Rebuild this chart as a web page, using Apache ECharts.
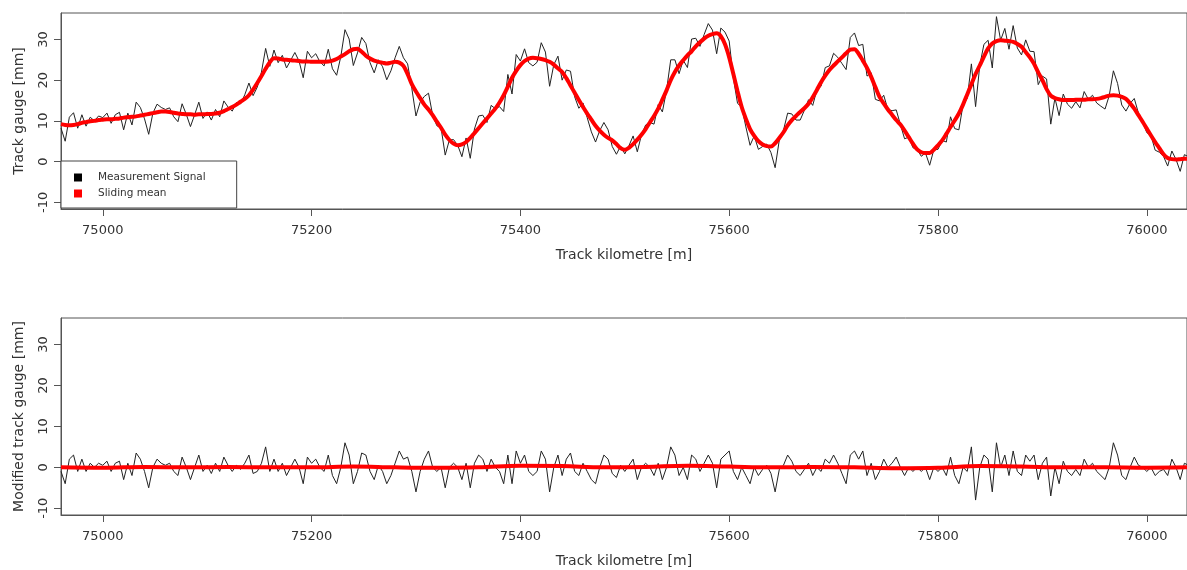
<!DOCTYPE html>
<html>
<head>
<meta charset="utf-8">
<script src="https://cdn.jsdelivr.net/npm/echarts@6/dist/echarts.min.js"></script>
<style>
  html, body { margin: 0; padding: 0; background: #fff; }
  #chart { width: 1187px; height: 570px; }
</style>
</head>
<body>
<div id="chart"></div>
<script>
// Sampling of the track: one value every 4 m starting at km 74960
const startKm = 74960;
const stepKm = 4;

// Sliding mean of the track gauge [mm], one value per sample (rows of 40 m)
const slidingMean = [
  9.2, 9.0, 8.9, 9.0, 9.2, 9.5, 9.7, 9.9, 10.0, 10.2,
  10.3, 10.4, 10.4, 10.5, 10.6, 10.8, 10.9, 11.0, 11.1, 11.3,
  11.5, 11.7, 11.9, 12.1, 12.3, 12.3, 12.2, 12.0, 11.8, 11.7,
  11.6, 11.6, 11.5, 11.6, 11.6, 11.7, 11.7, 11.8, 12.0, 12.4,
  12.9, 13.4, 14.0, 14.7, 15.4, 16.3, 17.7, 19.3, 21.0, 22.8,
  24.4, 25.4, 25.3, 25.1, 25.0, 24.9, 24.8, 24.7, 24.6, 24.6,
  24.5, 24.5, 24.5, 24.5, 24.6, 24.8, 25.2, 25.8, 26.4, 27.1,
  27.6, 27.7, 27.0, 26.0, 25.3, 24.8, 24.5, 24.3, 24.1, 24.3,
  24.5, 24.3, 23.5, 21.5, 19.0, 17.2, 15.6, 14.0, 12.8, 11.4,
  9.8, 8.3, 6.6, 5.3, 4.4, 4.0, 4.2, 4.8, 5.8, 7.0,
  8.2, 9.4, 10.6, 11.8, 13.0, 14.5, 16.3, 18.4, 20.6, 22.3,
  23.7, 24.7, 25.3, 25.5, 25.4, 25.2, 24.9, 24.5, 23.8, 22.9,
  22.0, 20.5, 18.7, 16.9, 15.1, 13.4, 11.8, 10.3, 8.8, 7.6,
  6.6, 5.8, 5.2, 4.3, 3.3, 2.9, 3.4, 4.3, 5.4, 6.6,
  8.0, 9.6, 11.2, 13.0, 15.2, 17.5, 20.0, 22.0, 23.6, 24.9,
  26.1, 27.1, 28.3, 29.3, 30.2, 30.9, 31.3, 31.5, 30.8, 28.8,
  25.6, 21.5, 17.3, 13.4, 10.5, 8.0, 6.3, 5.0, 4.2, 3.8,
  3.7, 4.5, 5.8, 7.2, 8.9, 10.2, 11.2, 12.2, 13.1, 14.2,
  15.8, 17.6, 19.5, 21.1, 22.5, 23.6, 24.6, 25.6, 26.6, 27.5,
  27.6, 26.5, 24.8, 23.0, 20.8, 18.3, 15.9, 14.3, 12.8, 11.5,
  10.2, 9.1, 7.6, 6.0, 4.4, 3.0, 2.3, 2.1, 2.1, 2.9,
  4.0, 5.2, 6.8, 8.5, 10.1, 11.8, 14.0, 16.5, 19.0, 21.5,
  23.6, 25.8, 27.8, 29.0, 29.6, 29.8, 29.7, 29.6, 29.4, 28.9,
  28.2, 26.9, 25.6, 24.0, 21.9, 20.0, 17.8, 16.2, 15.6, 15.3,
  15.1, 15.1, 15.1, 15.2, 15.2, 15.2, 15.3, 15.3, 15.4, 15.6,
  15.9, 16.2, 16.3, 16.2, 15.9, 15.4, 14.3, 13.0, 11.4, 9.8,
  8.1, 6.4, 4.8, 3.3, 1.8, 0.9, 0.6, 0.5, 0.6, 0.7,
  0.7
];

// Modified track gauge [mm]: measurement minus its sliding mean, same sampling
const modifiedGauge = [
  -1, -4, 2, 3, -1, 2, -1, 1, 0, 1,
  0.5, 1.5, -1, 1, 1.5, -3, 1, -2, 3.5, 2,
  -1, -5, 0, 2, 1, 0.5, 1, -1, -2, 2.5,
  0, -3, 0, 3, -1, 0.5, -1.5, 1, -1, 2.5,
  0.5, -1, 0.5, -0.5, 1, 3, -1.5, -1, 1, 5,
  -1, 2, -1, 1, -2, 0, 2, 0, -4, 2.5,
  1, 2, 0, -1, 3, -2, -4, 0, 6, 3,
  -4, -1, 3.5, 3, -1, -3, 0.5, -1, -4, -2,
  1, 4, 2, 2.5, -1, -6, -1, 2, 4, 0,
  -1, 0, -5, 0, 1, 0, -3, 1, -5, 1,
  3, 2, -1, 2, 0, -1, -4, 3, -4, 4,
  1, 3, -1, -2, -1, 4, 2, -6, 0, 3,
  -2, 2, 3.5, -1, -2, 1, -1, -3, -4, 0,
  3, 2, -1.5, -2.5, 0.5, -1, 0.5, 2, -3, 0,
  1, 0, -2, 1, -3, 0, 5, 3, -2, 0,
  -3, 3, 2, -1, 1, 3, 1, -5, 2, 3,
  4, -1, -3, 0, -2, -4, 0, -2, -0.5, 0.5,
  -1.5, -6, -0.5, 0.5, 3, 1.5, -1, -2, -0.5, 1,
  -2, 0, -1, 2, 1, 3, 1, -1.5, -4, 3,
  4, 2, 4, -2, 1, -3, -1, 2, 0, 1,
  2.5, 0, -2, 0, -1, 0, -1, 0, -3, 0,
  -1, 0, -2, 2.5, -2, -4, 0, -1, 5, -8,
  0, 3, 2, -6, 6, 0, 3, -2, 4, -1,
  -2, 3, 1.5, 3, -3, 1, 2.5, -7, 0, -4,
  1.5, -1, -2, -0.5, -2, 2, 0, 1, -1, -2,
  -3, 0, 6, 3, -2, -3, 0, 2.5, 0.5, 0,
  -1, 0, -2, -1, -0.5, -2, 2, 0, -3, 1,
  0.5
];

// Sliding mean of the modified gauge, one value every 40 m from km 74960
const modifiedMeanStep = 40;
const modifiedMean = [
  0.0, -0.1, 0.1, 0.0, 0.1, 0.0, 0.0, 0.2, 0.0, -0.1,
  0.0, 0.4, 0.3, 0.0, 0.1, 0.4, 0.2, 0.0, 0.1, 0.0,
  -0.2, -0.1, 0.3, 0.2, 0.0, 0.0, -0.1, 0.0
];

const xTicks = [75000, 75200, 75400, 75600, 75800, 76000];
const yTicks = [-10, 0, 10, 20, 30];

const kmAt = i => startKm + i * stepKm;
const signalData = slidingMean.map((m, i) => [kmAt(i), +(m + modifiedGauge[i]).toFixed(2)]);
const meanData = slidingMean.map((m, i) => [kmAt(i), m]);
const modData = modifiedGauge.map((v, i) => [kmAt(i), v]);
const modMeanData = modifiedMean.map((v, i) => [startKm + i * modifiedMeanStep, v]);

const FONT = 'DejaVu Sans';
const TXT = '#333';
const FRAME = '#555';

function xAxis(gridIndex) {
  return {
    type: 'value', gridIndex, position: 'bottom',
    min: 74960, max: 76038.5,
    axisLine: { show: true, onZero: false, lineStyle: { color: FRAME, width: 1 } },
    splitLine: { show: false },
    axisTick: { show: true, inside: false, length: 7, customValues: xTicks, lineStyle: { color: FRAME, width: 1 } },
    axisLabel: {
      customValues: xTicks, margin: 15, fontSize: 13, color: TXT, fontFamily: FONT,
      formatter: v => String(v)
    },
    name: 'Track kilometre [m]', nameLocation: 'middle', nameGap: 39,
    nameTextStyle: { fontSize: 14, color: TXT, fontFamily: FONT }
  };
}

function yAxis(gridIndex, name) {
  return {
    type: 'value', gridIndex, position: 'left',
    min: -11.65, max: 36.5,
    axisLine: { show: true, onZero: false, lineStyle: { color: FRAME, width: 1 } },
    splitLine: { show: false },
    axisTick: { show: true, inside: false, length: 7, customValues: yTicks, lineStyle: { color: FRAME, width: 1 } },
    axisLabel: {
      customValues: yTicks, rotate: 90, margin: 11, fontSize: 13, color: TXT, fontFamily: FONT,
      formatter: v => String(v)
    },
    name, nameLocation: 'middle', nameGap: 35,
    nameTextStyle: { fontSize: 14, color: TXT, fontFamily: FONT }
  };
}

const chart = echarts.init(document.getElementById('chart'), null, { renderer: 'canvas' });
chart.setOption({
  animation: false,
  backgroundColor: '#fff',
  grid: [
    { left: 61, top: 13, width: 1127, height: 196, show: true, borderColor: FRAME, borderWidth: 1 },
    { left: 61, top: 318, width: 1127, height: 197, show: true, borderColor: FRAME, borderWidth: 1 }
  ],
  xAxis: [xAxis(0), xAxis(1)],
  yAxis: [yAxis(0, 'Track gauge [mm]'), yAxis(1, 'Modified track gauge [mm]')],
  legend: {
    data: ['Measurement Signal', 'Sliding mean'],
    orient: 'vertical',
    left: 61, top: 161,
    padding: [11, 31, 9, 13],
    itemGap: 5,
    itemWidth: 8, itemHeight: 8,
    icon: 'rect',
    borderColor: '#444', borderWidth: 1,
    backgroundColor: '#fff',
    textStyle: { fontSize: 10.5, color: TXT, fontFamily: FONT, padding: [0, 0, 0, 11] }
  },
  series: [
    {
      name: 'Measurement Signal', type: 'line', xAxisIndex: 0, yAxisIndex: 0,
      data: signalData, showSymbol: false, symbol: 'none',
      itemStyle: { color: '#000' },
      lineStyle: { color: '#222', width: 1 }, z: 2
    },
    {
      name: 'Sliding mean', type: 'line', xAxisIndex: 0, yAxisIndex: 0,
      data: meanData, showSymbol: false, symbol: 'none', smooth: 0.3,
      itemStyle: { color: '#f00' },
      lineStyle: { color: '#f00', width: 4 }, z: 3
    },
    {
      name: 'Modified signal', type: 'line', xAxisIndex: 1, yAxisIndex: 1,
      data: modData, showSymbol: false, symbol: 'none',
      lineStyle: { color: '#222', width: 1 }, z: 2
    },
    {
      name: 'Modified mean', type: 'line', xAxisIndex: 1, yAxisIndex: 1,
      data: modMeanData, showSymbol: false, symbol: 'none', smooth: 0.4,
      lineStyle: { color: '#f00', width: 4 }, z: 3
    }
  ]
});
</script>
</body>
</html>
